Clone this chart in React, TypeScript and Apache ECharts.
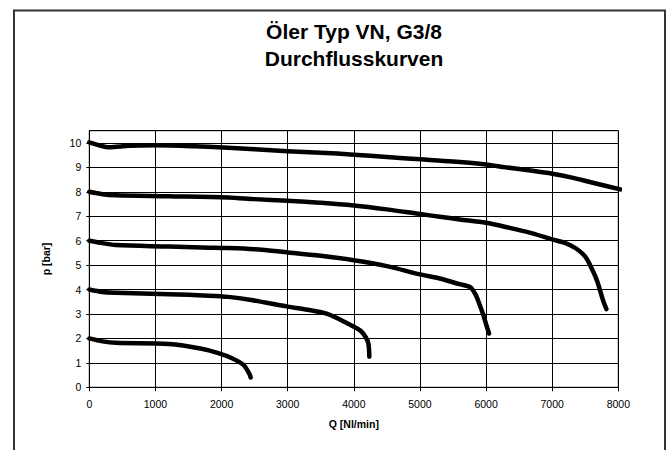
import React, { useEffect, useRef } from "react";
import * as echarts from "echarts";

const titleLines = ["Öler Typ VN, G3/8", "Durchflusskurven"];
const xName = "Q [Nl/min]";
const yName = "p [bar]";

const c10Q = [0, 150, 300, 600, 1000, 1600, 2100, 2500, 3000, 3500, 4000, 4500, 5000, 5500, 6000, 6300, 6700, 7000, 7300, 7600, 8030];
const c10P = [10.02, 9.9, 9.82, 9.88, 9.9, 9.86, 9.8, 9.74, 9.66, 9.6, 9.52, 9.42, 9.33, 9.24, 9.12, 9.0, 8.86, 8.74, 8.58, 8.38, 8.1];

const c8Q = [0, 200, 400, 1200, 2100, 2500, 3000, 3500, 4000, 4500, 5000, 5300, 5600, 6000, 6300, 6700, 7000, 7200, 7350, 7500, 7600, 7680, 7770, 7820];
const c8P = [8.0, 7.9, 7.86, 7.82, 7.77, 7.7, 7.63, 7.55, 7.44, 7.28, 7.09, 6.98, 6.87, 6.73, 6.56, 6.3, 6.05, 5.9, 5.7, 5.35, 4.85, 4.35, 3.55, 3.2];

const c6Q = [0, 200, 400, 1200, 1700, 2100, 2500, 3000, 3500, 4000, 4500, 5000, 5300, 5600, 5760, 5840, 5900, 5960, 6010, 6045];
const c6P = [6.0, 5.9, 5.82, 5.76, 5.72, 5.7, 5.65, 5.52, 5.38, 5.2, 4.96, 4.62, 4.45, 4.22, 4.1, 3.8, 3.4, 2.95, 2.5, 2.2];

const c4Q = [0, 200, 400, 1200, 1800, 2100, 2450, 3000, 3300, 3600, 3900, 4100, 4180, 4220, 4235];
const c4P = [4.0, 3.9, 3.87, 3.81, 3.75, 3.7, 3.57, 3.3, 3.17, 3.0, 2.62, 2.32, 2.05, 1.8, 1.25];

const c2Q = [0, 200, 400, 1200, 1700, 1950, 2150, 2330, 2400, 2430, 2440];
const c2P = [2.0, 1.88, 1.82, 1.77, 1.58, 1.4, 1.2, 0.92, 0.65, 0.5, 0.4];

const curves = [
  { name: "10 bar", q: c10Q, p: c10P },
  { name: "8 bar", q: c8Q, p: c8P },
  { name: "6 bar", q: c6Q, p: c6P },
  { name: "4 bar", q: c4Q, p: c4P },
  { name: "2 bar", q: c2Q, p: c2P },
];

const FONT = "'Liberation Sans', Arial, sans-serif";

export default function App() {
  const ref = useRef<HTMLDivElement>(null);
  useEffect(() => {
    if (!ref.current) return;
    const chart = echarts.init(ref.current, null, { renderer: "svg" });
    chart.setOption({
      animation: false,
      backgroundColor: "#fff",
      title: {
        text: titleLines.join("\n"),
        left: 354,
        top: 17.5,
        padding: 0,
        textAlign: "center",
        textStyle: {
          fontFamily: FONT,
          fontSize: 21,
          fontWeight: "bold",
          lineHeight: 27,
          color: "#000",
        },
      },
      graphic: [
        {
          type: "rect",
          shape: { x: 14, y: 10.5, width: 651, height: 470 },
          style: { fill: "none", stroke: "#333", lineWidth: 2 },
          silent: true,
          z: 100,
        },
      ],
      grid: {
        left: 89.3,
        right: 49.7,
        top: 130.7,
        bottom: 62.7,
        show: true,
        borderColor: "#000",
        borderWidth: 1,
      },
      xAxis: {
        type: "value",
        min: 0,
        max: 8000,
        interval: 1000,
        name: xName,
        nameLocation: "middle",
        nameGap: 31,
        nameTextStyle: { fontFamily: FONT, fontSize: 10.5, fontWeight: "bold", color: "#000" },
        axisLine: { lineStyle: { color: "#000", width: 1 } },
        axisTick: { show: true, length: 4, lineStyle: { color: "#000" } },
        axisLabel: {
          fontFamily: FONT,
          fontSize: 10.5,
          color: "#000",
          margin: 11,
          formatter: (v: number) => String(v),
        },
        splitLine: { show: true, lineStyle: { color: "#000", width: 1 } },
      },
      yAxis: {
        type: "value",
        min: 0,
        max: 10.5,
        interval: 1,
        name: yName,
        nameLocation: "middle",
        nameGap: 38,
        nameRotate: 90,
        nameTextStyle: { fontFamily: FONT, fontSize: 10.5, fontWeight: "bold", color: "#000" },
        axisLine: { show: true, lineStyle: { color: "#000", width: 1 } },
        axisTick: { show: true, length: 3, lineStyle: { color: "#000" } },
        axisLabel: {
          fontFamily: FONT,
          fontSize: 10.5,
          color: "#000",
          margin: 8,
          showMaxLabel: false,
          formatter: (v: number) => String(v),
        },
        splitLine: { show: true, lineStyle: { color: "#000", width: 1 } },
      },
      series: curves.map((c) => ({
        type: "line",
        name: c.name,
        data: c.q.map((q, i) => [q, c.p[i]]),
        showSymbol: false,
        smooth: 0.3,
        clip: false,
        lineStyle: { color: "#000", width: 4.5, cap: "round", join: "round" },
        z: 5,
      })),
    });
    return () => chart.dispose();
  }, []);
  return (
    <div
      ref={ref}
      style={{ position: "fixed", left: 0, top: 0, width: 668, height: 450 }}
    />
  );
}
